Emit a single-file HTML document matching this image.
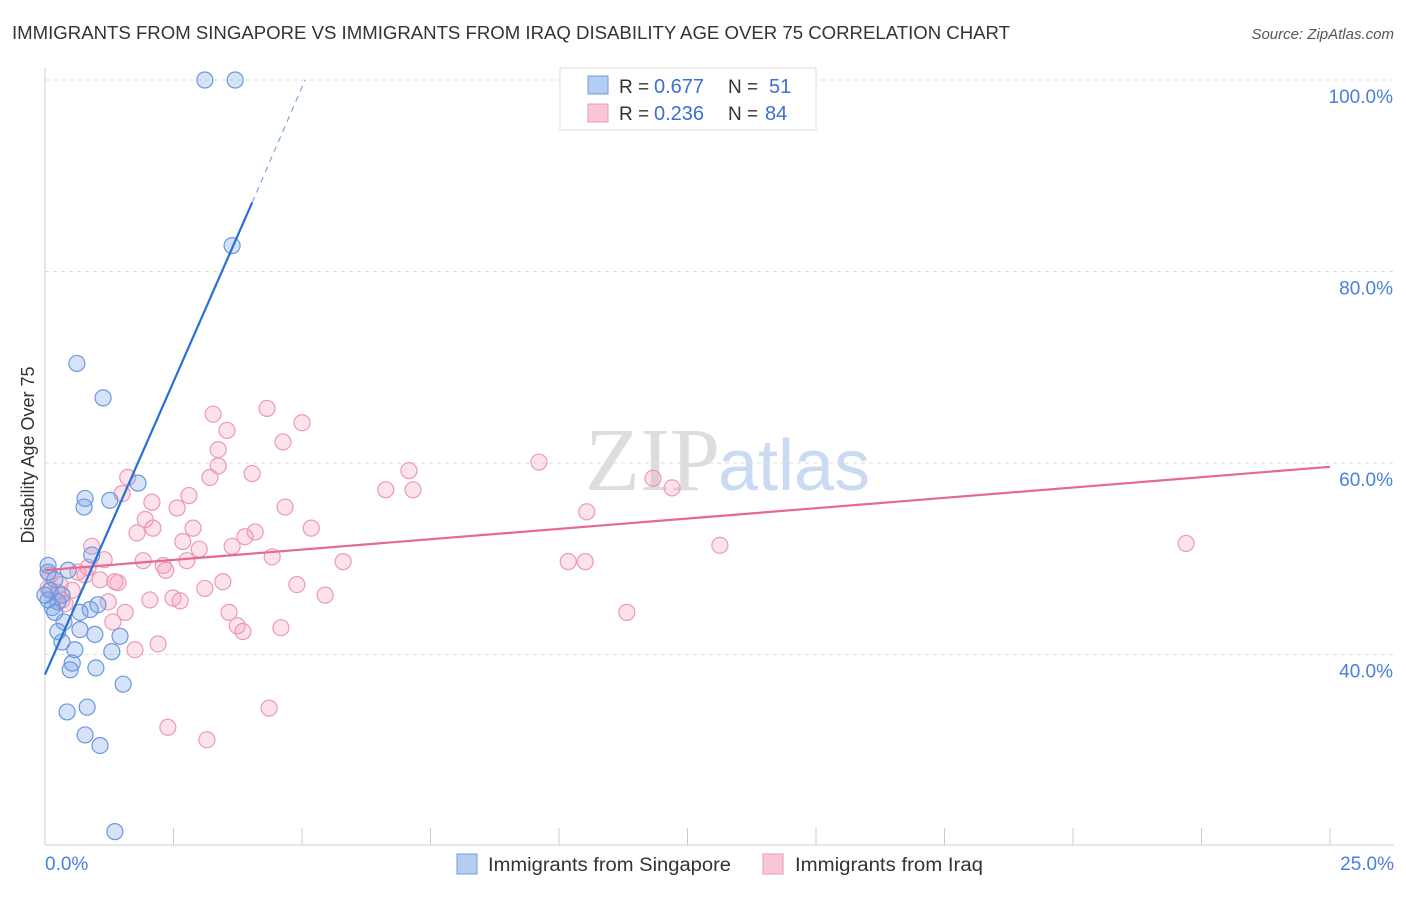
<!DOCTYPE html>
<html><head><meta charset="utf-8"><style>
body{margin:0;background:#fff;font-family:"Liberation Sans",sans-serif;}
</style></head><body>
<svg width="1406" height="892" xmlns="http://www.w3.org/2000/svg">
<text x="12" y="39" font-size="18" fill="#333" textLength="998" lengthAdjust="spacingAndGlyphs">IMMIGRANTS FROM SINGAPORE VS IMMIGRANTS FROM IRAQ DISABILITY AGE OVER 75 CORRELATION CHART</text>
<text x="1394" y="39" font-size="15" fill="#555" font-style="italic" text-anchor="end">Source: ZipAtlas.com</text>
<text x="720" y="490" font-size="90" fill="#ddd" text-anchor="end" font-family="Liberation Serif">ZIP</text>
<text x="718" y="490" font-size="72" fill="#c9daf2">atlas</text>
<g id="grid"></g>
<g id="axes"></g>
<text transform="translate(34,455) rotate(-90)" font-size="18" fill="#333" text-anchor="middle">Disability Age Over 75</text>
<g id="marks"></g>
<g>
<rect x="560" y="68" width="256" height="62" fill="#fff" stroke="#ddd"/>
<rect x="588" y="76" width="20" height="18" fill="#b4cdf2" stroke="#6e9be0"/>
<rect x="588" y="104" width="20" height="18" fill="#f9c7d7" stroke="#ea9ab5"/>
<text x="619" y="93" font-size="19" fill="#333">R =</text>
<text x="654" y="93" font-size="20" fill="#3b6fd4">0.677</text>
<text x="728" y="93" font-size="19" fill="#333">N =</text>
<text x="769" y="93" font-size="20" fill="#3b6fd4">51</text>
<text x="619" y="120" font-size="19" fill="#333">R =</text>
<text x="654" y="120" font-size="20" fill="#3b6fd4">0.236</text>
<text x="728" y="120" font-size="19" fill="#333">N =</text>
<text x="765" y="120" font-size="20" fill="#3b6fd4">84</text>
</g>
<g>
<rect x="457" y="854" width="20" height="20" fill="#b4cdf2" stroke="#6e9be0"/>
<text x="488" y="871" font-size="19" fill="#333" textLength="243" lengthAdjust="spacingAndGlyphs">Immigrants from Singapore</text>
<rect x="763" y="854" width="20" height="20" fill="#f9c7d7" stroke="#ea9ab5"/>
<text x="795" y="871" font-size="19" fill="#333" textLength="188" lengthAdjust="spacingAndGlyphs">Immigrants from Iraq</text>
</g>
</svg>
<script>
const yTicks=[40,60,80,100];
const yTickLabels=["40.0%","60.0%","80.0%","100.0%"];
const xEndLabels=["0.0%","25.0%"];
const blueX=[3.11,3.70,3.64,0.62,1.13,1.81,0.78,1.26,0.76,0.91,0.45,0.06,0.19,0.10,0.33,0.06,0.25,0.14,0.88,1.03,0.68,0.37,0.68,0.25,0.97,1.46,0.33,0.58,1.30,0.53,0.49,0.99,1.52,0.43,0.82,0.78,1.07,1.36,0.06,0.19,0];
const blueY=[100,100,82.7,70.4,66.8,57.9,56.3,56.1,55.4,50.4,48.8,48.6,47.8,46.7,46.2,45.7,45.5,44.9,44.7,45.2,44.4,43.4,42.6,42.4,42.1,41.9,41.3,40.5,40.3,39.1,38.4,38.6,36.9,34.0,34.5,31.6,30.5,21.5,49.3,44.4,46.2];
const pinkX=[3.27,4.32,5.0,3.54,4.63,3.37,3.37,7.08,9.61,3.21,4.03,11.83,12.2,6.63,7.16,1.61,1.50,2.80,2.08,2.57,4.67,10.54,1.95,2.10,2.88,5.18,1.79,4.09,3.89,2.68,3.64,13.13,22.2,0.91,3.00,4.42,1.15,1.91,2.76,5.80,10.18,10.51,2.30,2.35,0.84,0.64,1.07,1.42,1.36,3.46,4.9,3.11,0.53,0.25,2.04,2.49,2.63,5.45,1.23,0.39,1.56,3.58,11.32,1.32,3.74,3.85,4.59,2.20,1.75,2.39,3.15,4.36,0.10,0.29,0.06,0.78,0.33];
const pinkY=[65.1,65.7,64.2,63.4,62.2,61.4,59.7,59.2,60.1,58.5,58.9,58.4,57.4,57.2,57.2,58.5,56.8,56.6,55.9,55.3,55.4,54.9,54.1,53.2,53.2,53.2,52.7,52.8,52.3,51.8,51.3,51.4,51.6,51.3,51.0,50.2,49.9,49.8,49.8,49.7,49.7,49.7,49.3,48.8,49.1,48.6,47.8,47.5,47.6,47.6,47.3,46.9,46.7,46.5,45.7,45.9,45.6,46.2,45.5,45.3,44.4,44.4,44.4,43.4,43.0,42.4,42.8,41.1,40.5,32.4,31.1,34.4,48.3,47.3,46.9,48.3,45.7];
const blueTrend=[[0,37.9],[4.03,87.2]];
const blueTrendDash=[[4.03,87.2],[5.06,100]];
const pinkTrend=[[0,48.8],[25,59.6]];
const NS="http://www.w3.org/2000/svg";
const xs=v=>45+v*51.4;
const ys=v=>80+(100-v)*9.575;
function mk(t,a,p){const e=document.createElementNS(NS,t);for(const k in a)e.setAttribute(k,a[k]);p.appendChild(e);return e;}
const grid=document.getElementById('grid'),axes=document.getElementById('axes'),marks=document.getElementById('marks');
yTicks.forEach((v,i)=>{
 const l=mk('line',{x1:45,x2:1394,y1:ys(v),y2:ys(v),stroke:'#ddd','stroke-dasharray':'4,4'},grid);
 
 
 const t=mk('text',{x:1393,y:ys(v)+23,'font-size':19,fill:'#4a7fdc','text-anchor':'end'},axes);
 t.textContent=yTickLabels[i];
 
 
});
let ax=mk('line',{x1:45,x2:1394,y1:845,y2:845,stroke:'#ccc'},axes);


ax=mk('line',{x1:45,x2:45,y1:68,y2:845,stroke:'#ccc'},axes);


for(let i=0;i<=10;i++){const t=mk('line',{x1:xs(i*2.5),x2:xs(i*2.5),y1:828,y2:845,stroke:'#ccc'},axes);
 
 }
[[0,'start',45],[25,'end',1394]].forEach((d,i)=>{const t=mk('text',{x:d[2],y:870,'font-size':19,fill:'#4a7fdc','text-anchor':d[1]},axes);t.textContent=xEndLabels[i];
 
 });
pinkX.forEach((x,i)=>{const c=mk('circle',{cx:xs(x),cy:ys(pinkY[i]),r:8,fill:'rgba(244,160,188,0.3)',stroke:'#eb9ab5','stroke-width':1.2},marks);
 
 });
blueX.forEach((x,i)=>{const c=mk('circle',{cx:xs(x),cy:ys(blueY[i]),r:8,fill:'rgba(120,160,230,0.3)',stroke:'#6a98de','stroke-width':1.2},marks);
 
 });
let L=mk('line',{x1:xs(pinkTrend[0][0]),y1:ys(pinkTrend[0][1]),x2:xs(pinkTrend[1][0]),y2:ys(pinkTrend[1][1]),stroke:'#e46a94','stroke-width':2.2},marks);


L=mk('line',{x1:xs(blueTrend[0][0]),y1:ys(blueTrend[0][1]),x2:xs(blueTrend[1][0]),y2:ys(blueTrend[1][1]),stroke:'#2a6fd6','stroke-width':2.2},marks);


L=mk('line',{x1:xs(blueTrendDash[0][0]),y1:ys(blueTrendDash[0][1]),x2:xs(blueTrendDash[1][0]),y2:ys(blueTrendDash[1][1]),stroke:'#7fa6e0','stroke-width':1.2,'stroke-dasharray':'6,5'},marks);


</script>
</body></html>
